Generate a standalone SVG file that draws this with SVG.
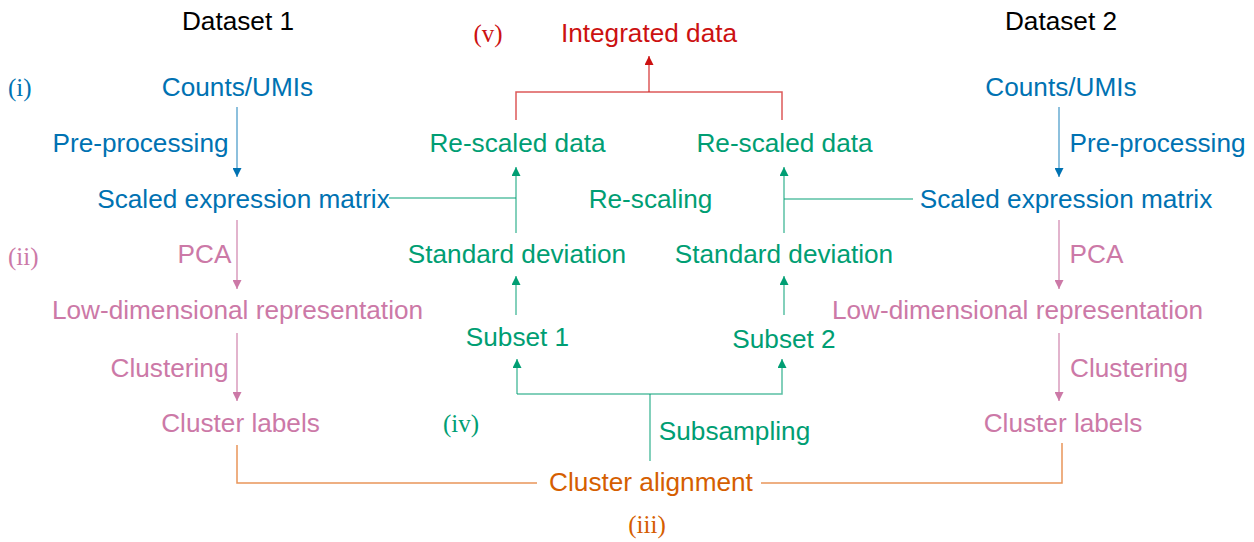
<svg xmlns="http://www.w3.org/2000/svg" width="1254" height="542" viewBox="0 0 1254 542">
  <style>
    text { font-family: "Liberation Sans", Arial, sans-serif; font-size: 26.2px; text-anchor: middle; }
    .num { font-family: "Liberation Serif", "Times New Roman", serif; font-size: 25px; }
    .hd { fill: #000000; }
    .blue { fill: #0072B2; }
    .pink { fill: #CC79A7; }
    .green { fill: #009E73; }
    .orange { fill: #D55E00; }
    .red { fill: #CC1111; }
    .ln { fill: none; stroke-width: 1.5; }
    .lb { stroke: #0072B2; stroke-opacity: 0.6; }
    .lp { stroke: #CC79A7; stroke-opacity: 0.75; }
    .lg { stroke: #009E73; stroke-opacity: 0.65; }
    .lo { stroke: #E07020; stroke-opacity: 0.75; }
    .lr { stroke: #D02020; stroke-opacity: 0.75; }
  </style>
  <defs>
    <marker id="ah-blue" viewBox="0 0 10 10" refX="10" refY="5" markerWidth="10" markerHeight="9" markerUnits="userSpaceOnUse" orient="auto">
      <path d="M0,0 L10,5 L0,10 Z" fill="#0072B2"/>
    </marker>
    <marker id="ah-pink" viewBox="0 0 10 10" refX="10" refY="5" markerWidth="10" markerHeight="9" markerUnits="userSpaceOnUse" orient="auto">
      <path d="M0,0 L10,5 L0,10 Z" fill="#CC79A7"/>
    </marker>
    <marker id="ah-green" viewBox="0 0 10 10" refX="10" refY="5" markerWidth="10" markerHeight="9" markerUnits="userSpaceOnUse" orient="auto">
      <path d="M0,0 L10,5 L0,10 Z" fill="#009E73"/>
    </marker>
    <marker id="ah-red" viewBox="0 0 10 10" refX="10" refY="5" markerWidth="10" markerHeight="9" markerUnits="userSpaceOnUse" orient="auto">
      <path d="M0,0 L10,5 L0,10 Z" fill="#CC1111"/>
    </marker>
  </defs>

  <!-- connectors -->
  <g id="connectors">
    <!-- dataset 1 pipeline -->
    <line class="ln lb" x1="237" y1="107" x2="237" y2="177" marker-end="url(#ah-blue)"/>
    <line class="ln lp" x1="237" y1="220" x2="237" y2="289" marker-end="url(#ah-pink)"/>
    <line class="ln lp" x1="237" y1="333" x2="237" y2="401" marker-end="url(#ah-pink)"/>
    <!-- dataset 2 pipeline -->
    <line class="ln lb" x1="1059" y1="107" x2="1059" y2="177" marker-end="url(#ah-blue)"/>
    <line class="ln lp" x1="1059" y1="220" x2="1059" y2="289" marker-end="url(#ah-pink)"/>
    <line class="ln lp" x1="1059" y1="333" x2="1059" y2="401" marker-end="url(#ah-pink)"/>
    <!-- cluster alignment -->
    <polyline class="ln lo" points="237,445 237,483 537,483"/>
    <polyline class="ln lo" points="1062,443 1062,483 761,483"/>
    <!-- subsampling -->
    <line class="ln lg" x1="650" y1="461" x2="650" y2="394"/>
    <polyline class="ln lg" points="517,394 517,359" marker-end="url(#ah-green)"/>
    <polyline class="ln lg" points="517,394 782,394 782,359" marker-end="url(#ah-green)"/>
    <!-- subsets to standard deviation -->
    <line class="ln lg" x1="516" y1="315" x2="516" y2="276" marker-end="url(#ah-green)"/>
    <line class="ln lg" x1="784" y1="315" x2="784" y2="276" marker-end="url(#ah-green)"/>
    <!-- re-scaling -->
    <line class="ln lg" x1="516" y1="233" x2="516" y2="167" marker-end="url(#ah-green)"/>
    <line class="ln lg" x1="389" y1="198" x2="516" y2="198"/>
    <line class="ln lg" x1="784" y1="233" x2="784" y2="167" marker-end="url(#ah-green)"/>
    <line class="ln lg" x1="784" y1="199" x2="913" y2="199"/>
    <!-- integration -->
    <polyline class="ln lr" points="516,120 516,92 782,92 782,120"/>
    <line class="ln lr" x1="649" y1="92" x2="649" y2="56" marker-end="url(#ah-red)"/>
  </g>

  <!-- headers and step numerals -->
  <g id="headers">
    <text class="hd" x="238" y="30">Dataset 1</text>
    <text class="hd" x="1061" y="30">Dataset 2</text>
    <text class="num blue" x="8" y="96" style="text-anchor:start">(i)</text>
    <text class="num pink" x="8" y="265" style="text-anchor:start">(ii)</text>
    <text class="num orange" x="647" y="533">(iii)</text>
    <text class="num green" x="461" y="432">(iv)</text>
    <text class="num red" x="488" y="42">(v)</text>
  </g>

  <!-- dataset 1 nodes -->
  <g id="d1-counts"><text class="blue" x="237.5" y="96">Counts/UMIs</text></g>
  <g id="d1-preproc"><text class="blue" x="140.5" y="152">Pre-processing</text></g>
  <g id="d1-scaled"><text class="blue" x="243.5" y="208">Scaled expression matrix</text></g>
  <g id="d1-pca"><text class="pink" x="204.5" y="263">PCA</text></g>
  <g id="d1-lowdim"><text class="pink" x="237.5" y="319">Low-dimensional representation</text></g>
  <g id="d1-clustering"><text class="pink" x="169.5" y="377">Clustering</text></g>
  <g id="d1-labels"><text class="pink" x="240.5" y="432">Cluster labels</text></g>

  <!-- dataset 2 nodes -->
  <g id="d2-counts"><text class="blue" x="1061" y="96">Counts/UMIs</text></g>
  <g id="d2-preproc"><text class="blue" x="1157.5" y="152">Pre-processing</text></g>
  <g id="d2-scaled"><text class="blue" x="1066" y="208">Scaled expression matrix</text></g>
  <g id="d2-pca"><text class="pink" x="1096.5" y="263">PCA</text></g>
  <g id="d2-lowdim"><text class="pink" x="1017.5" y="319">Low-dimensional representation</text></g>
  <g id="d2-clustering"><text class="pink" x="1129" y="377">Clustering</text></g>
  <g id="d2-labels"><text class="pink" x="1063" y="432">Cluster labels</text></g>

  <!-- integration nodes -->
  <g id="alignment"><text class="orange" x="651" y="491">Cluster alignment</text></g>
  <g id="subsampling"><text class="green" x="734.5" y="440">Subsampling</text></g>
  <g id="subset1"><text class="green" x="517.5" y="346">Subset 1</text></g>
  <g id="subset2"><text class="green" x="784" y="348">Subset 2</text></g>
  <g id="sd1"><text class="green" x="517" y="263">Standard deviation</text></g>
  <g id="sd2"><text class="green" x="784" y="263">Standard deviation</text></g>
  <g id="rescaling"><text class="green" x="650.5" y="208">Re-scaling</text></g>
  <g id="rescaled1"><text class="green" x="517.5" y="152">Re-scaled data</text></g>
  <g id="rescaled2"><text class="green" x="784.5" y="152">Re-scaled data</text></g>
  <g id="integrated"><text class="red" x="649" y="42">Integrated data</text></g>
</svg>
